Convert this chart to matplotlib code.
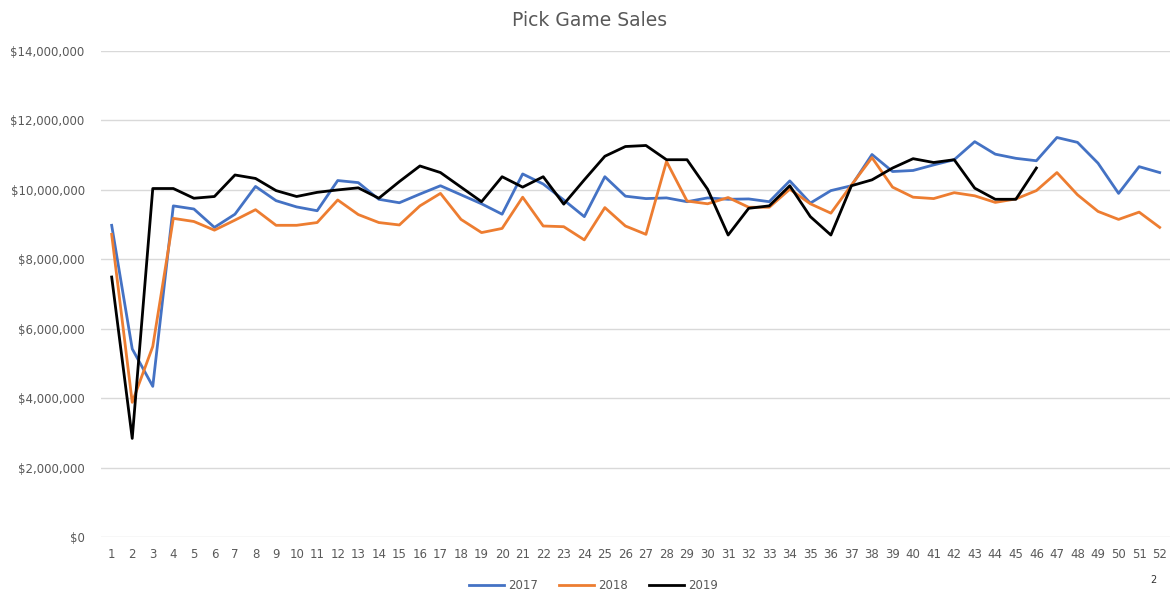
import matplotlib
matplotlib.use("Agg")
import matplotlib.pyplot as plt
from matplotlib.ticker import FuncFormatter

weeks = list(range(1, 53))

sales_2017 = [8.98, 5.42, 4.34, 9.54, 9.45, 8.92, 9.30, 10.10, 9.69, 9.51,
              9.40, 10.27, 10.21, 9.73, 9.63, 9.88, 10.12, 9.86, 9.60, 9.30,
              10.46, 10.17, 9.71, 9.23, 10.38, 9.82, 9.75, 9.77, 9.66, 9.77,
              9.73, 9.74, 9.66, 10.26, 9.62, 9.98, 10.12, 11.02, 10.53, 10.56,
              10.72, 10.87, 11.39, 11.03, 10.91, 10.84, 11.51, 11.37, 10.77, 9.90,
              10.67, 10.50]
sales_2018 = [8.72, 3.88, 5.49, 9.18, 9.09, 8.84, 9.13, 9.43, 8.98, 8.98,
              9.06, 9.71, 9.29, 9.06, 8.99, 9.54, 9.90, 9.15, 8.77, 8.89,
              9.79, 8.96, 8.94, 8.56, 9.49, 8.96, 8.72, 10.82, 9.68, 9.60,
              9.78, 9.50, 9.50, 10.02, 9.60, 9.33, 10.14, 10.93, 10.08, 9.79,
              9.75, 9.92, 9.83, 9.64, 9.74, 9.98, 10.50, 9.86, 9.38, 9.15,
              9.36, 8.92]
sales_2019 = [7.49, 2.84, 10.04, 10.04, 9.76, 9.81, 10.43, 10.33, 9.98, 9.81,
              9.93, 10.00, 10.06, 9.76, 10.24, 10.69, 10.50, 10.08, 9.66, 10.38,
              10.08, 10.38, 9.59, 10.29, 10.97, 11.25, 11.28, 10.87, 10.87, 10.02,
              8.70, 9.47, 9.54, 10.12, 9.23, 8.70, 10.12, 10.29, 10.63, 10.90,
              10.79, 10.87, 10.05, 9.73, 9.73, 10.63]

series = [("2017", sales_2017, "#4472C4"),
          ("2018", sales_2018, "#ED7D31"),
          ("2019", sales_2019, "#000000")]

plt.rcParams['font.family'] = ['DejaVu Sans']
text_color = "#595959"

fig = plt.figure(figsize=(11.75, 5.94), dpi=100)
ax = fig.add_axes([0.0863, 0.096, 0.9094, 0.818])

for label, vals, color in series:
    ax.plot(weeks[:len(vals)], [v * 1e6 for v in vals], color=color,
            linewidth=2.0, label=label, solid_joinstyle='round')

ax.set_xlim(0.5, 52.5)
ax.set_ylim(0, 14e6)
ax.set_yticks([i * 2e6 for i in range(8)])
ax.yaxis.set_major_formatter(FuncFormatter(lambda v, p: "${:,.0f}".format(v)))
ax.set_xticks(weeks)
ax.set_xticklabels([str(w) for w in weeks])
ax.grid(axis='y', color='#D9D9D9', linewidth=1.0)
ax.set_axisbelow(True)
for s in ax.spines.values():
    s.set_visible(False)
ax.tick_params(axis='both', length=0, labelsize=8.5, colors=text_color)
ax.tick_params(axis='y', pad=12)
ax.tick_params(axis='x', pad=8)

fig.text(0.502, 0.965, "Pick Game Sales", ha='center', va='center',
         fontsize=13.5, color=text_color)

leg = fig.legend(loc='center', bbox_to_anchor=(0.505, 0.014), ncol=3,
                 frameon=False, fontsize=8.5, handlelength=3.0,
                 columnspacing=1.8, handletextpad=0.3)
for t in leg.get_texts():
    t.set_color(text_color)

fig.text(0.982, 0.024, "2", ha='center', va='center', fontsize=7, color='#333333')

fig.savefig("out.png", dpi=100)
